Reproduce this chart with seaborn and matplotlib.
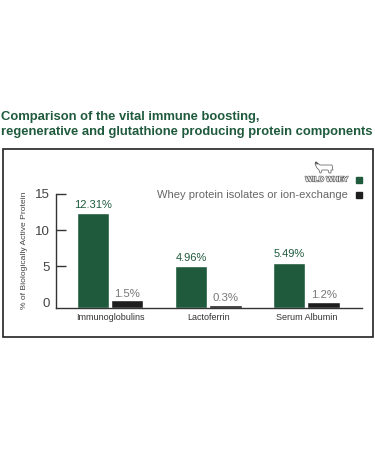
import matplotlib
matplotlib.use('Agg')
import matplotlib.pyplot as plt
import matplotlib.patheffects as pe
from matplotlib.lines import Line2D
from matplotlib.patches import Rectangle
import pandas as pd
import seaborn as sns

categories = ['Immunoglobulins', 'Lactoferrin', 'Serum Albumin']
series_names = ['Wild Whey', 'Whey protein isolates or ion-exchange']
# bar tops as they sit against the printed axis (the low end of the axis is squeezed)
wild_whey = [12.31, 4.96, 5.49]
isolates = [0.25, -0.39, 0.07]
wild_labels = ['12.31%', '4.96%', '5.49%']
isolate_labels = ['1.5%', '0.3%', '1.2%']
y_ticks = [0, 5, 10, 15]

GREEN = '#1f5a3c'
BLACK = '#1e1e1e'
W, H = 375, 450
y_floor = -0.75

sns.set_style('white')
plt.rcParams['font.family'] = ['Liberation Sans', 'DejaVu Sans']

df = pd.DataFrame({
    'category': categories * 2,
    'series': [series_names[0]] * 3 + [series_names[1]] * 3,
    'value': wild_whey + isolates,
})
df['height'] = df['value'] - y_floor

fig = plt.figure(figsize=(W / 100, H / 100), dpi=100)
ax = fig.add_axes([56 / W, 1 - 307.7 / H, 306 / W, 113.7 / H])

sns.barplot(data=df, x='category', y='height', hue='series', hue_order=series_names,
            palette=[GREEN, BLACK], width=0.7, gap=0.06, saturation=1,
            bottom=y_floor, legend=False, ax=ax)

ax.set_xlim(-0.55, 2.566)
ax.set_ylim(y_floor, 15)
ax.set_xlabel('')
ax.set_ylabel('% of Biologically Active Protein', fontsize=6.1, color='#444444')
ax.yaxis.set_label_coords(-0.09, 0.507)
ax.set_yticks(y_ticks)
ax.tick_params(axis='y', length=7, width=1, direction='in', left=True, labelsize=9.6,
               labelcolor='#444444', pad=4.5, color='#333333')
ax.tick_params(axis='x', length=0, labelsize=6.5, labelcolor='#333333', pad=3.5)
ax.get_yticklines()[0].set_visible(False)
for side in ['top', 'right']:
    ax.spines[side].set_visible(False)
for side in ['left', 'bottom']:
    ax.spines[side].set_color('#333333')
    ax.spines[side].set_linewidth(1)

ax.bar_label(ax.containers[0], labels=wild_labels, padding=2.5, fontsize=8, color=GREEN)
ax.bar_label(ax.containers[1], labels=isolate_labels, padding=1.2, fontsize=8.2, color='#777777')

# title and outer frame
fig.text(1 / W, 1 - 117 / H, 'Comparison of the vital immune boosting,', fontsize=9.4,
         fontweight='bold', color=GREEN, va='center')
fig.text(1 / W, 1 - 132 / H, 'regenerative and glutathione producing protein components',
         fontsize=9.4, fontweight='bold', color=GREEN, va='center')
fig.add_artist(Rectangle((2.5 / W, 1 - 337 / H), 370.5 / W, 188 / H, fill=False,
                         edgecolor='#222222', linewidth=1.2, transform=fig.transFigure))

# hand drawn legend, top right of the frame
fig.text(348 / W, 1 - 180 / H, 'WILD WHEY', fontsize=5.3, fontweight='bold', color='white',
         ha='right', va='center',
         path_effects=[pe.withStroke(linewidth=0.9, foreground='#555555')])
fig.text(348 / W, 1 - 195 / H, series_names[1], fontsize=8, color='#666666',
         ha='right', va='center')
fig.add_artist(Rectangle((356 / W, 1 - 182.7 / H), 6 / W, 6 / H, color=GREEN,
                         transform=fig.transFigure))
fig.add_artist(Rectangle((356 / W, 1 - 198 / H), 6 / W, 6 / H, color=BLACK,
                         transform=fig.transFigure))

# small cow outline above the logo
cow_x = [316, 320, 332, 333, 331, 331, 329, 328, 322, 321, 320, 319, 317, 315, 316, 318, 316, 316]
cow_y = [162, 165, 165, 170, 170, 173, 173, 170, 170, 173, 173, 170, 168, 164, 162, 164, 164, 162]
fig.add_artist(Line2D([x / W for x in cow_x], [1 - y / H for y in cow_y], color='#555555',
                      linewidth=0.5, transform=fig.transFigure))

fig.savefig('out.png', dpi=100)
